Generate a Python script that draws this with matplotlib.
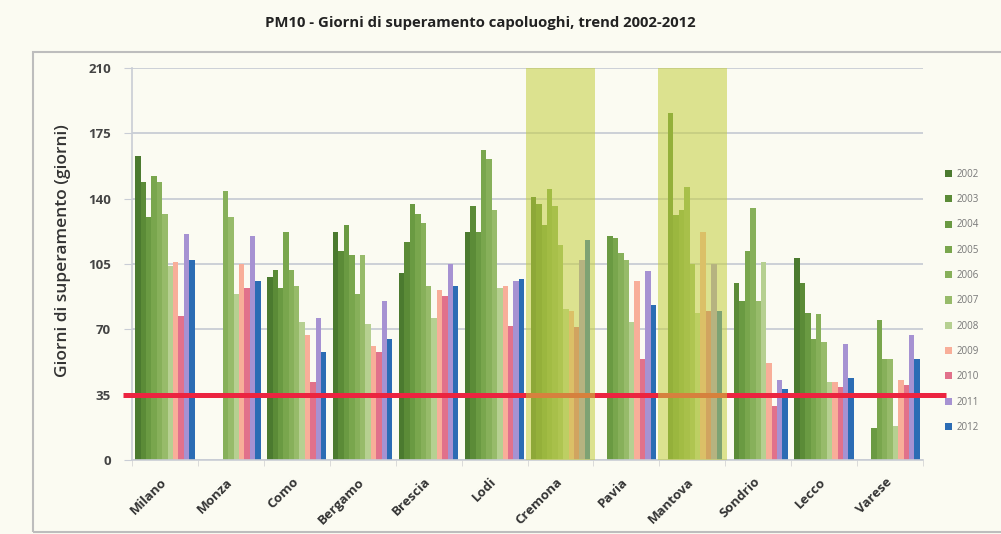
import numpy as np
import matplotlib
matplotlib.use("Agg")
import matplotlib.pyplot as plt
import matplotlib.transforms as mtransforms
from matplotlib.patches import Rectangle, Patch

# ---- data: days above the PM10 daily limit, per provincial capital ----
cities = ["Milano", "Monza", "Como", "Bergamo", "Brescia", "Lodi",
          "Cremona", "Pavia", "Mantova", "Sondrio", "Lecco", "Varese"]
years = ["2002", "2003", "2004", "2005", "2006", "2007",
         "2008", "2009", "2010", "2011", "2012"]
nan = np.nan
milano  = [163, 149, 130, 152, 149, 132, 104, 106, 77, 121, 107]
monza   = [nan, nan, nan, nan, 144, 130, 89, 105, 92, 120, 96]
como    = [98, 102, 92, 122, 102, 93, 74, 67, 42, 76, 58]
bergamo = [122, 112, 126, 110, 89, 110, 73, 61, 58, 85, 65]
brescia = [100, 117, 137, 132, 127, 93, 76, 91, 88, 105, 93]
lodi    = [122, 136, 122, 166, 161, 134, 92, 93, 72, 96, 97]
cremona = [141, 137, 126, 145, 136, 115, 81, 80, 71, 107, 118]
pavia   = [nan, nan, 120, 119, 111, 107, 74, 96, 54, 101, 83]
mantova = [nan, 186, 131, 134, 146, 105, 79, 122, 80, 105, 80]
sondrio = [nan, 95, 85, 112, 135, 85, 106, 52, 29, 43, 38]
lecco   = [108, 95, 79, 65, 78, 63, 42, 42, 39, 62, 44]
varese  = [nan, nan, 17, 75, 54, 54, 18, 43, 40, 67, 54]

y_ticks = [0, 35, 70, 105, 140, 175, 210]
limit_days = 35
highlighted = ["Cremona", "Mantova"]

title = "PM10 - Giorni di superamento capoluoghi, trend 2002-2012"
y_label = "Giorni di superamento (giorni)"

# ---- style ----
year_colors = ["#4b7a2f", "#5b8b37", "#6a9a42", "#79a64d", "#87b05a",
               "#97bb6a", "#b6d091", "#f8ae99", "#e1718b", "#a692d2",
               "#2b6cb4"]
bg = "#fbfbf2"
font = ["Open Sans", "DejaVu Sans"]
plt.rcParams["font.family"] = font

W, H = 1001, 534
fig = plt.figure(figsize=(W / 100, H / 100), dpi=100, facecolor=bg)

# chart-area frame
fig.patches.append(Rectangle((33 / W, 2 / H), 1.0, 480 / H,
                             transform=fig.transFigure, fill=False,
                             edgecolor="#bdbdbd", lw=1.5))

ax = fig.add_axes([132 / W, 1 - 460 / H, 791 / W, 392 / H])
ax.set_facecolor(bg)

values = np.array([milano, monza, como, bergamo, brescia, lodi, cremona,
                   pavia, mantova, sondrio, lecco, varese], dtype=float)
x = np.arange(len(cities))
group_w = 0.9
bw = group_w / len(years)
for j, yr in enumerate(years):
    offset = -group_w / 2 + bw * (j + 0.5)
    ax.bar(x + offset, np.nan_to_num(values[:, j]), width=bw,
           color=year_colors[j], linewidth=0, zorder=2, label=yr)

# limit line (35 days)
ax.plot([-0.64, 11.85], [limit_days, limit_days], color="#ec2440",
        lw=3.6, solid_capstyle="butt", clip_on=False, zorder=3)

# highlighted provinces
for name in highlighted:
    i = cities.index(name)
    ax.axvspan(i - 0.52, i + 0.52, color="#c4cf3e", alpha=0.55,
               lw=0, zorder=4)

ax.set_xlim(-0.5, len(cities) - 0.5)
ax.set_ylim(y_ticks[0], y_ticks[-1])
ax.set_yticks(y_ticks)
ax.set_yticklabels([str(t) for t in y_ticks], fontsize=9.5,
                   fontweight="bold", color="#444444")
ax.yaxis.grid(True, color="#c9cdd5", lw=1.3)
ax.set_axisbelow(True)
ax.tick_params(axis="y", length=6, color="#c9cdd5", pad=9)

ax.set_xticks(x)
ax.set_xticklabels(cities, rotation=45, ha="right", rotation_mode="anchor",
                   fontsize=9.5, fontweight="bold", color="#333333")
ax.tick_params(axis="x", length=0, pad=11)
shift = mtransforms.ScaledTranslation(-5 / 100, 0, fig.dpi_scale_trans)
for lbl in ax.get_xticklabels():
    lbl.set_transform(lbl.get_transform() + shift)
ax.set_xticks(np.arange(len(cities) + 1) - 0.5, minor=True)
ax.tick_params(axis="x", which="minor", length=4, color="#d5d5d5")

for side in ("top", "right"):
    ax.spines[side].set_visible(False)
for side in ("left", "bottom"):
    ax.spines[side].set_color("#c9cdd5")
    ax.spines[side].set_linewidth(1.2)

ax.set_ylabel(y_label, fontsize=12.5, fontweight="semibold",
              color="#333333")
ax.yaxis.set_label_coords(-0.077, 0.535)

fig.text(480 / W, 1 - 23 / H, title, ha="center", va="center",
         fontsize=10.7, fontweight="bold", color="#222222")

handles = [Patch(facecolor=c, edgecolor="none") for c in year_colors]
fig.legend(handles, years, loc="upper left",
           bbox_to_anchor=(941 / W, 1 - 165 / H), frameon=False,
           fontsize=7, labelcolor="#777777", handlelength=0.75,
           handleheight=0.75, handletextpad=0.5, labelspacing=1.47,
           borderaxespad=0)

fig.savefig("out.png", dpi=100, facecolor=bg)
